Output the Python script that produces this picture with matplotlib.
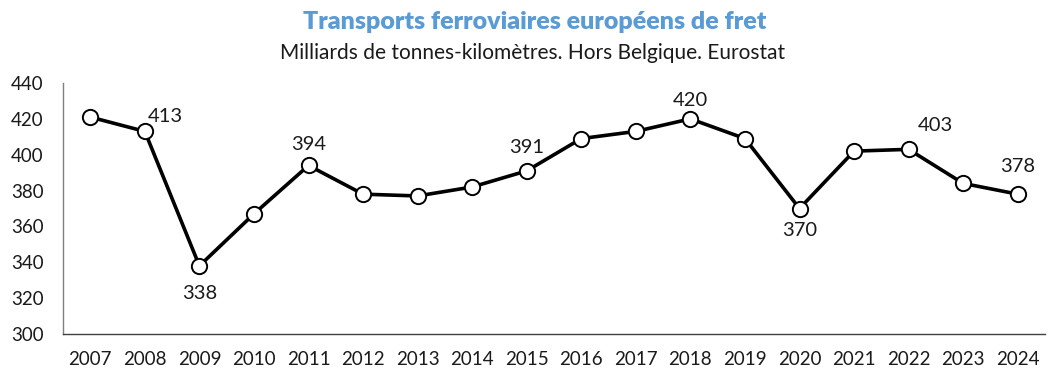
import matplotlib
matplotlib.use("Agg")
import matplotlib.pyplot as plt

years = ["2007", "2008", "2009", "2010", "2011", "2012", "2013", "2014", "2015",
         "2016", "2017", "2018", "2019", "2020", "2021", "2022", "2023", "2024"]
fret = [421, 413, 338, 367, 394, 378, 377, 382, 391,
        409, 413, 420, 409, 370, 402, 403, 384, 378]
# years that carry a value label, with the label offset (points)
labels = {"2008": (15, 11), "2009": (0, -20), "2011": (0, 15), "2015": (0, 17),
          "2018": (0, 13), "2020": (0, -16), "2022": (19, 17), "2024": (0, 20)}
yticks = [300, 320, 340, 360, 380, 400, 420, 440]

plt.rcParams["font.family"] = ["Lato", "DejaVu Sans"]

fig = plt.figure(figsize=(10.48, 3.71), dpi=100)
ax = fig.add_axes([63 / 1048, 1 - 334 / 371, (1045 - 63) / 1048, (334 - 83) / 371])

x = list(range(len(years)))
ax.plot(x, fret, color="black", lw=2.6, marker="o", ms=11,
        mfc="white", mec="black", mew=1.4, zorder=3, clip_on=False)

for i, (yr, v) in enumerate(zip(years, fret)):
    if yr in labels:
        dx, dy = labels[yr]
        ax.annotate(str(v), (i, v), xytext=(dx, dy), textcoords="offset points",
                    ha="center", va="center", fontsize=14.5, color="#1a1a1a")

ax.set_xlim(-0.5, len(years) - 0.5)
ax.set_ylim(300, 440)
ax.set_yticks(yticks)
ax.set_xticks(x)
ax.set_xticklabels(years)
ax.tick_params(axis="both", length=0, labelsize=13.5, colors="#1a1a1a")
ax.tick_params(axis="x", pad=12)
ax.tick_params(axis="y", pad=14)

for s in ("top", "right"):
    ax.spines[s].set_visible(False)
ax.spines["left"].set_color("#7f7f7f")
ax.spines["left"].set_linewidth(1.0)
ax.spines["bottom"].set_color("#404040")
ax.spines["bottom"].set_linewidth(1.0)

fig.text(0.51, 0.94, "Transports ferroviaires européens de fret", ha="center",
         va="center", fontsize=18, fontweight="heavy", color="#5B9BD5")
fig.text(0.508, 0.858, "Milliards de tonnes-kilomètres. Hors Belgique. Eurostat",
         ha="center", va="center", fontsize=15, color="#1a1a1a")

fig.savefig("out.png", dpi=100)
